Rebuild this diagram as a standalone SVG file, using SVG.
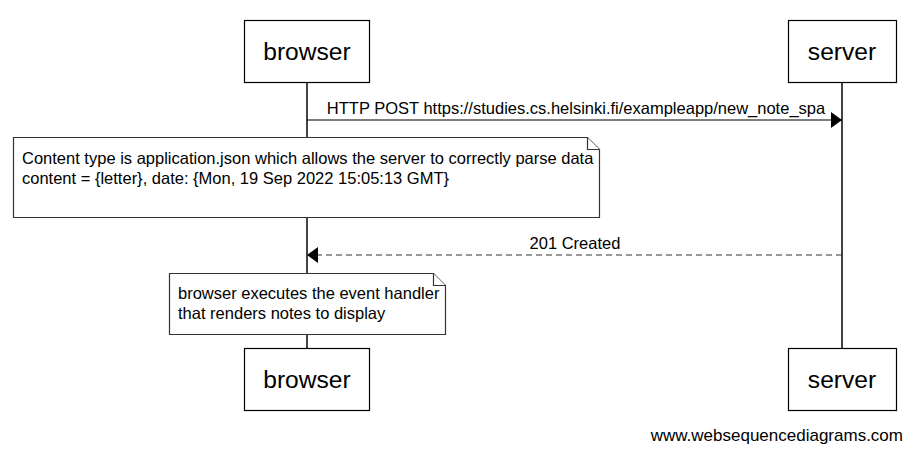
<svg xmlns="http://www.w3.org/2000/svg" width="913" height="452" viewBox="0 0 913 452">
<style>
.box{fill:#fff;stroke:#000;stroke-width:1.2}
.life{stroke:#444;stroke-width:2}
.t{font-family:"Liberation Sans",Arial,sans-serif;fill:#000}
.big{font-size:24.6px;text-anchor:middle}
.sm{font-size:16.5px}
.note{fill:#fff;stroke:#333;stroke-width:1.2}
</style>
<defs>
<marker id="ah" viewBox="0 0 11 16" refX="11" refY="8" markerWidth="11" markerHeight="16" markerUnits="userSpaceOnUse" orient="auto">
<path d="M0,0 L11,8 L0,16 Z" fill="#000"/>
</marker>
</defs>
<g id="lifelines">
<line class="life" x1="307" y1="82" x2="307" y2="348"/>
<line class="life" x1="842" y1="82" x2="842" y2="348"/>
</g>
<g id="connectors">
<line x1="307" y1="120" x2="842" y2="120" stroke="#000" stroke-width="1.2" marker-end="url(#ah)"/>
<text class="t sm" x="576" y="114" text-anchor="middle">HTTP POST https://studies.cs.helsinki.fi/exampleapp/new_note_spa</text>
<line x1="842" y1="255" x2="307" y2="255" stroke="#333" stroke-width="1.2" stroke-dasharray="6,4" marker-end="url(#ah)"/>
<text class="t sm" x="575" y="249" text-anchor="middle">201 Created</text>
</g>
<g id="browser-top"><rect class="box" x="244.5" y="20.5" width="125" height="62"/><text class="t big" x="307" y="60">browser</text></g>
<g id="server-top"><rect class="box" x="788.5" y="20.5" width="108" height="62"/><text class="t big" x="842" y="60">server</text></g>
<g id="note1">
<path class="note" d="M13.5,137.5 H587.5 L599.5,149.5 V217.5 H13.5 Z"/>
<path class="note" d="M587.5,137.5 V149.5 H599.5"/>
<text class="t sm" x="22" y="164">Content type is application.json which allows the server to correctly parse data</text>
<text class="t sm" x="22" y="184">content = {letter}, date: {Mon, 19 Sep 2022 15:05:13 GMT}</text>
</g>
<g id="note2">
<path class="note" d="M169.5,273.5 H433.5 L445.5,285.5 V334.5 H169.5 Z"/>
<path class="note" d="M433.5,273.5 V285.5 H445.5"/>
<text class="t sm" x="178" y="299">browser executes the event handler</text>
<text class="t sm" x="178" y="319">that renders notes to display</text>
</g>
<g id="browser-bottom"><rect class="box" x="244.5" y="348.5" width="125" height="62"/><text class="t big" x="307" y="388">browser</text></g>
<g id="server-bottom"><rect class="box" x="788.5" y="348.5" width="108" height="62"/><text class="t big" x="842" y="388">server</text></g>
<text class="t" x="903" y="441" font-size="17" text-anchor="end">www.websequencediagrams.com</text>
</svg>
